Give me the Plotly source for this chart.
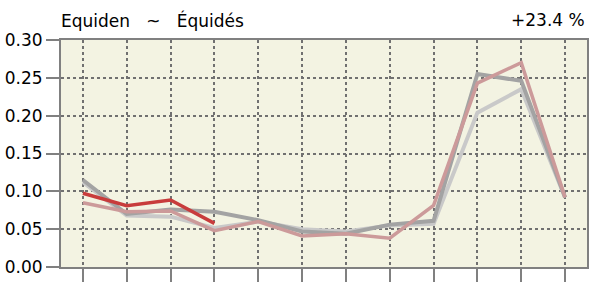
import plotly.graph_objects as go

x = list(range(1, 13))
light_gray = [0.112, 0.068, 0.0665, 0.0515, 0.060, 0.050, 0.047, 0.055, 0.057, 0.204, 0.235, 0.092]
gray = [0.115, 0.070, 0.076, 0.073, 0.062, 0.047, 0.044, 0.056, 0.061, 0.255, 0.246, 0.092]
pink = [0.085, 0.073, 0.074, 0.048, 0.060, 0.041, 0.044, 0.038, 0.0815, 0.243, 0.270, 0.092]
red_x = [1, 2, 3, 4]
red = [0.0974, 0.081, 0.0885, 0.0577]

y_ticks = [0.0, 0.05, 0.10, 0.15, 0.20, 0.25, 0.30]
y_labels = ["0.00", "0.05", "0.10", "0.15", "0.20", "0.25", "0.30"]

FONT = "DejaVu Sans, Arial, sans-serif"

fig = go.Figure()
fig.add_trace(go.Scatter(x=x, y=light_gray, mode="lines", line=dict(color="#c9c9c9", width=4)))
fig.add_trace(go.Scatter(x=x, y=gray, mode="lines", line=dict(color="#a3a3a3", width=4)))
fig.add_trace(go.Scatter(x=x, y=pink, mode="lines", line=dict(color="#cc9a9a", width=3.5)))
fig.add_trace(go.Scatter(x=red_x, y=red, mode="lines", line=dict(color="#c83c3c", width=3.5)))

fig.update_layout(
    width=596, height=288,
    margin=dict(l=61, r=9, t=40, b=21, autoexpand=False),
    paper_bgcolor="white",
    plot_bgcolor="#f3f3e2",
    showlegend=False,
    font=dict(family=FONT, size=17, color="black"),
)
fig.update_xaxes(
    range=[0.5, 12.5], tickmode="array", tickvals=x, ticktext=[""] * 12,
    ticks="outside", ticklen=13, tickwidth=2, tickcolor="#808080",
    showline=True, linecolor="#808080", linewidth=2, mirror=True,
    showgrid=True, gridcolor="#707070", gridwidth=1.5, griddash="dot",
    zeroline=False, fixedrange=True, automargin=False,
)
fig.update_yaxes(
    range=[0, 0.30], tickmode="array", tickvals=y_ticks, ticktext=y_labels,
    ticks="outside", ticklen=13, tickwidth=2, tickcolor="#808080",
    showline=True, linecolor="#808080", linewidth=2, mirror=True,
    showgrid=True, gridcolor="#707070", gridwidth=1.5, griddash="dot",
    zeroline=False, tickfont=dict(family=FONT, size=17), fixedrange=True, automargin=False,
)
fig.add_annotation(text="Equiden   ~   Équidés", xref="paper", yref="paper", x=0, y=1,
                   xanchor="left", yanchor="middle", yshift=20, xshift=-2, showarrow=False,
                   font=dict(family=FONT, size=17))
fig.add_annotation(text="+23.4 %", xref="paper", yref="paper", x=1, y=1,
                   xanchor="right", yanchor="middle", yshift=20, showarrow=False,
                   font=dict(family=FONT, size=17))

fig.write_html("out.html", config={"displayModeBar": False},
               post_script="document.body.style.margin='0';document.body.style.overflow='hidden';")
